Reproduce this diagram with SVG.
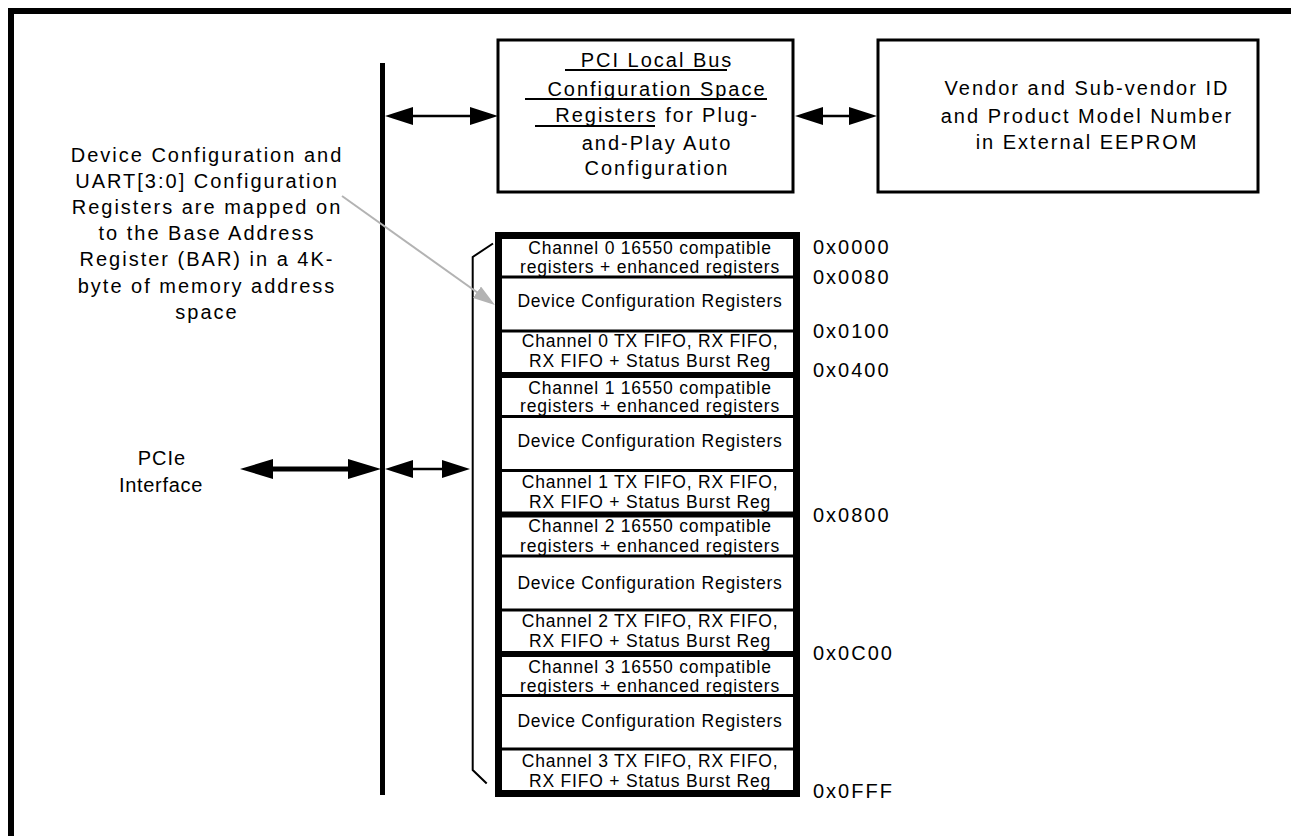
<svg xmlns="http://www.w3.org/2000/svg" width="1291" height="836" viewBox="0 0 1291 836">
<style>
  text { font-family: "Liberation Sans", Arial, sans-serif; fill: #000; }
  .big { font-size: 20px; letter-spacing: 2px; text-anchor: middle; }
  .row { font-size: 17.5px; letter-spacing: 0.8px; text-anchor: middle; }
  .addr { font-size: 20px; letter-spacing: 2px; }
  .box { fill: #fff; stroke: #000; stroke-width: 3; }
  .thin { stroke: #000; stroke-width: 3; }
  .thick { stroke: #000; stroke-width: 6; }
  .ul { stroke: #000; stroke-width: 2; }
  .conn { stroke: #000; stroke-width: 2.5; fill: none; }
</style>
<defs>
  <marker id="ah" viewBox="0 0 28 18" markerWidth="28" markerHeight="18" refX="20" refY="9" markerUnits="userSpaceOnUse" orient="auto-start-reverse">
    <path d="M0,0 L28,9 L0,18 z" fill="#000"/>
  </marker>
  <marker id="ahBig" viewBox="0 0 33 20" markerWidth="33" markerHeight="20" refX="21" refY="10" markerUnits="userSpaceOnUse" orient="auto-start-reverse">
    <path d="M0,0 L33,10 L0,20 z" fill="#000"/>
  </marker>
  <marker id="ahGray" viewBox="0 0 22 14" markerWidth="22" markerHeight="14" refX="16" refY="7" markerUnits="userSpaceOnUse" orient="auto">
    <path d="M0,0 L22,7 L0,14 z" fill="#b3b3b3"/>
  </marker>
</defs>
<rect width="1291" height="836" fill="#fff"/>
<rect x="11" y="11" width="1400" height="900" fill="none" stroke="#000" stroke-width="6"/>

<g id="bus">
  <line x1="382.5" y1="63" x2="382.5" y2="795" stroke="#000" stroke-width="5"/>
</g>

<g id="pci-config">
  <rect class="box" x="498" y="40" width="295" height="152"/>
  <text class="big" x="657" y="67">PCI Local Bus</text>
  <text class="big" x="657" y="96">Configuration Space</text>
  <text class="big" x="657" y="122">Registers  for Plug-</text>
  <text class="big" x="657" y="150">and-Play Auto</text>
  <text class="big" x="657" y="175">Configuration</text>
  <line class="ul" x1="565" y1="70" x2="727" y2="70"/>
  <line class="ul" x1="525" y1="99" x2="767" y2="99"/>
  <line class="ul" x1="535" y1="126" x2="655" y2="126"/>
</g>

<g id="eeprom">
  <rect class="box" x="878" y="40" width="380" height="152"/>
  <text class="big" x="1087" y="95">Vendor and Sub-vendor ID</text>
  <text class="big" x="1087" y="123">and Product Model Number</text>
  <text class="big" x="1087" y="149">in External EEPROM</text>
</g>

<g id="bar-note">
  <text class="big" x="207" y="162">Device Configuration and</text>
  <text class="big" x="207" y="188">UART[3:0] Configuration</text>
  <text class="big" x="207" y="214">Registers are mapped on</text>
  <text class="big" x="207" y="240">to the Base Address</text>
  <text class="big" x="207" y="266">Register (BAR) in a 4K-</text>
  <text class="big" x="207" y="293">byte of memory address</text>
  <text class="big" x="207" y="319">space</text>
</g>

<g id="pcie-label">
  <text x="162" y="465" style="font-size:20px;letter-spacing:1px;text-anchor:middle">PCIe</text>
  <text x="161" y="492" style="font-size:20px;letter-spacing:0.7px;text-anchor:middle">Interface</text>
</g>

<g id="bracket">
  <path d="M493,243.5 L472.7,257 L472.7,770 L486.7,783.5" fill="none" stroke="#000" stroke-width="2"/>
</g>

<g id="memory-map">
  <g id="channel-0">
    <text class="row" x="650" y="253.5">Channel 0 16550 compatible</text>
    <text class="row" x="650" y="272.5">registers + enhanced registers</text>
    <text class="row" x="650" y="307">Device Configuration Registers</text>
    <text class="row" x="650" y="347">Channel 0 TX FIFO, RX FIFO,</text>
    <text class="row" x="650" y="367">RX FIFO + Status Burst Reg</text>
    <line class="thin" x1="502" y1="277" x2="793" y2="277"/>
    <line class="thin" x1="502" y1="331" x2="793" y2="331"/>
  </g>
  <g id="channel-1">
    <text class="row" x="650" y="394">Channel 1 16550 compatible</text>
    <text class="row" x="650" y="412">registers + enhanced registers</text>
    <text class="row" x="650" y="447">Device Configuration Registers</text>
    <text class="row" x="650" y="488">Channel 1 TX FIFO, RX FIFO,</text>
    <text class="row" x="650" y="508">RX FIFO + Status Burst Reg</text>
    <line class="thin" x1="502" y1="416.5" x2="793" y2="416.5"/>
    <line class="thin" x1="502" y1="470.5" x2="793" y2="470.5"/>
  </g>
  <g id="channel-2">
    <text class="row" x="650" y="532">Channel 2 16550 compatible</text>
    <text class="row" x="650" y="551.5">registers + enhanced registers</text>
    <text class="row" x="650" y="589">Device Configuration Registers</text>
    <text class="row" x="650" y="627">Channel 2 TX FIFO, RX FIFO,</text>
    <text class="row" x="650" y="647">RX FIFO + Status Burst Reg</text>
    <line class="thin" x1="502" y1="556" x2="793" y2="556"/>
    <line class="thin" x1="502" y1="610" x2="793" y2="610"/>
  </g>
  <g id="channel-3">
    <text class="row" x="650" y="673">Channel 3 16550 compatible</text>
    <text class="row" x="650" y="692">registers + enhanced registers</text>
    <text class="row" x="650" y="727">Device Configuration Registers</text>
    <text class="row" x="650" y="767">Channel 3 TX FIFO, RX FIFO,</text>
    <text class="row" x="650" y="787">RX FIFO + Status Burst Reg</text>
    <line class="thin" x1="502" y1="695.5" x2="793" y2="695.5"/>
    <line class="thin" x1="502" y1="749" x2="793" y2="749"/>
  </g>
  <line class="thick" x1="502" y1="375" x2="793" y2="375"/>
  <line class="thick" x1="502" y1="514.5" x2="793" y2="514.5"/>
  <line class="thick" x1="502" y1="654" x2="793" y2="654"/>
  <rect x="498.5" y="235.5" width="298" height="558" fill="none" stroke="#000" stroke-width="7"/>
</g>

<g id="addresses">
  <text class="addr" x="813" y="254">0x0000</text>
  <text class="addr" x="813" y="284">0x0080</text>
  <text class="addr" x="813" y="338">0x0100</text>
  <text class="addr" x="813" y="377">0x0400</text>
  <text class="addr" x="813" y="522">0x0800</text>
  <text class="addr" x="813" y="660">0x0C00</text>
  <text class="addr" x="813" y="798">0x0FFF</text>
</g>

<g id="connectors">
  <line class="conn" x1="393" y1="116" x2="490" y2="116" marker-start="url(#ah)" marker-end="url(#ah)"/>
  <line class="conn" x1="803" y1="116" x2="869" y2="116" marker-start="url(#ah)" marker-end="url(#ah)"/>
  <line x1="252" y1="469" x2="369" y2="469" stroke="#000" stroke-width="5" marker-start="url(#ahBig)" marker-end="url(#ahBig)"/>
  <line class="conn" x1="393" y1="469" x2="462" y2="469" marker-start="url(#ah)" marker-end="url(#ah)"/>
  <line x1="342" y1="196" x2="490" y2="301.5" stroke="#b3b3b3" stroke-width="2" marker-end="url(#ahGray)"/>
</g>
</svg>
